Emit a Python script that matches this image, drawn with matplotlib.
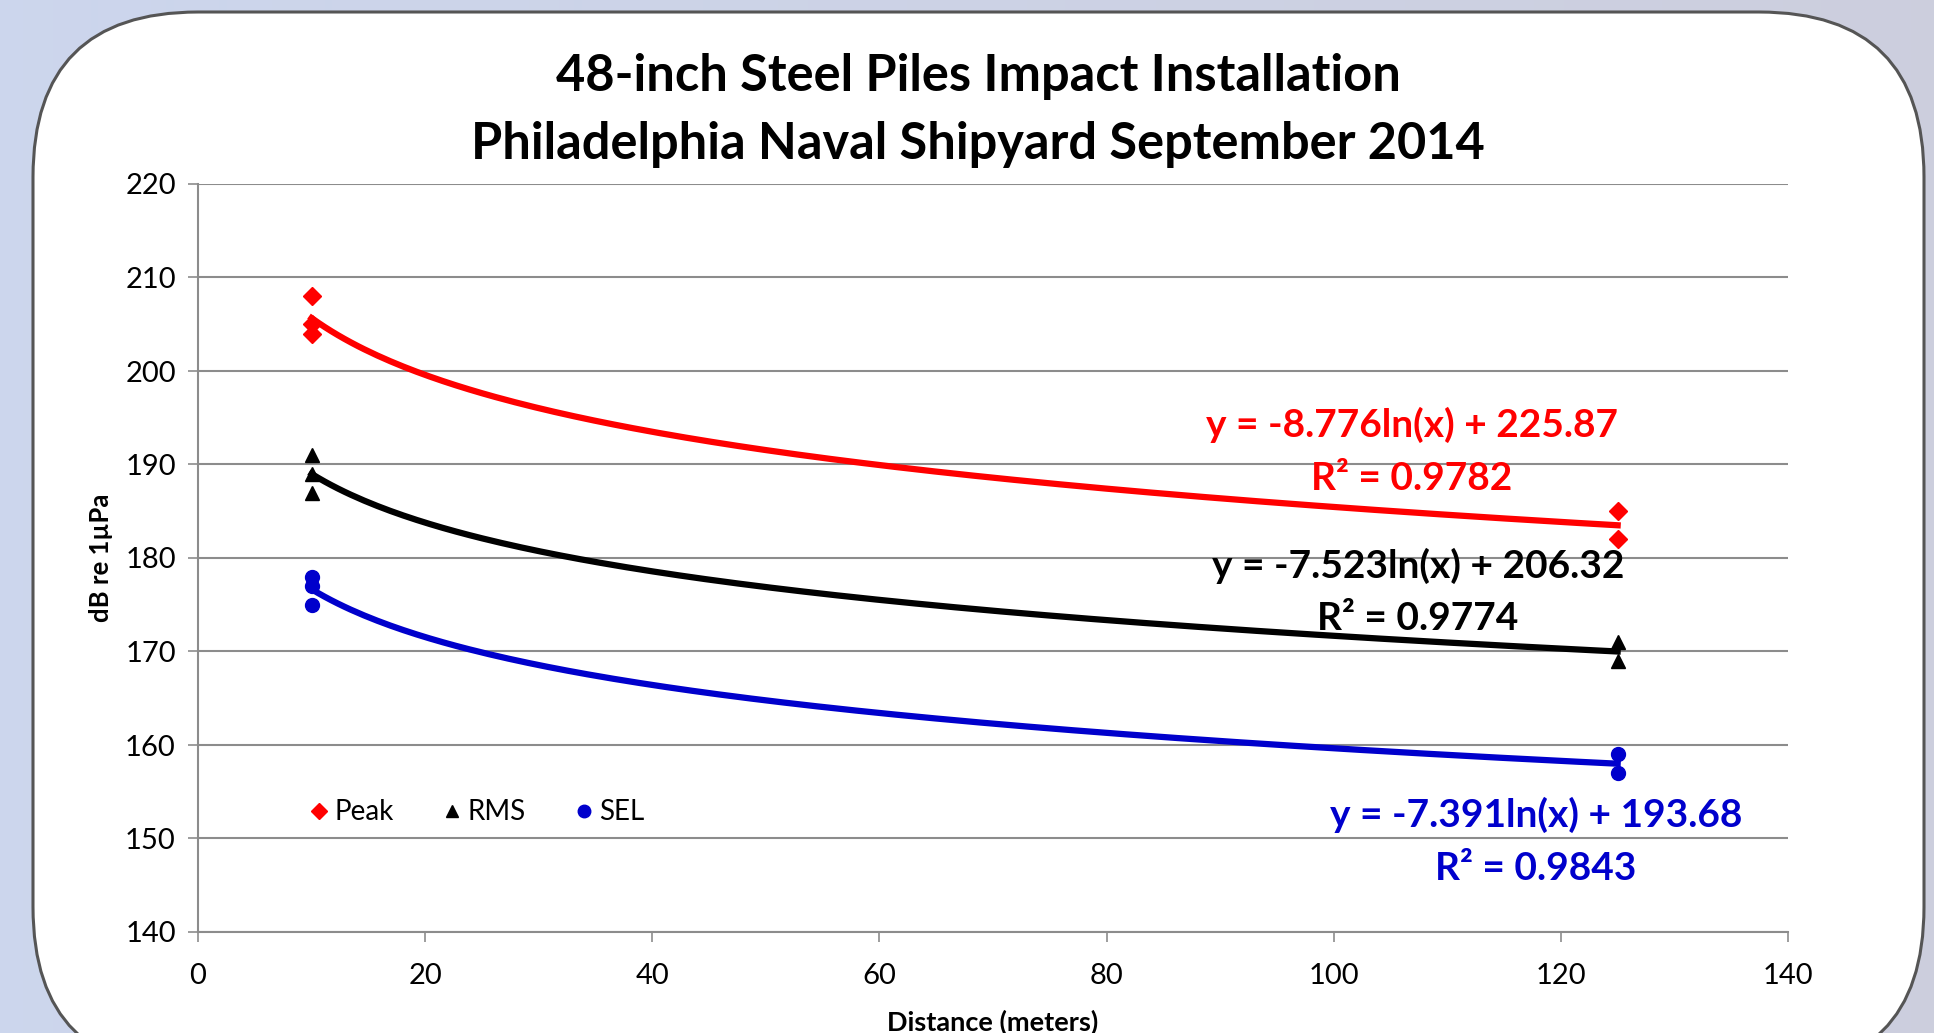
import numpy as np
import matplotlib
matplotlib.use("Agg")
import matplotlib.pyplot as plt
from matplotlib.patches import FancyBboxPatch
from matplotlib.lines import Line2D

plt.rcParams['font.family'] = ['Lato', 'DejaVu Sans']

# measured levels (dB re 1uPa) at two distances
peak_x = [10, 10, 10, 125, 125]
peak_y = [208, 205, 204, 185, 182]
rms_x = [10, 10, 10, 125, 125]
rms_y = [191, 189, 187, 171, 169]
sel_x = [10, 10, 10, 125, 125]
sel_y = [178, 177, 175, 159, 157]

series_names = ["Peak", "RMS", "SEL"]
x_ticks = [0, 20, 40, 60, 80, 100, 120, 140]
y_ticks = [140, 150, 160, 170, 180, 190, 200, 210, 220]

W, H = 1934, 1033
fig = plt.figure(figsize=(W / 100, H / 100), dpi=100)

# background gradient + rounded white panel
bg = fig.add_axes([0, 0, 1, 1])
bg.set_xlim(0, W)
bg.set_ylim(H, 0)
bg.axis("off")
grad = np.linspace(0, 1, 256)[None, :]
c1 = np.array([0.80, 0.84, 0.93])
c2 = np.array([0.80, 0.81, 0.87])
img = c1[None, None, :] * (1 - grad[..., None]) + c2[None, None, :] * grad[..., None]
bg.imshow(img, extent=[0, W, H, 0], aspect="auto")
panel = FancyBboxPatch((33 + 165, 12 + 165), 1891 - 330, 1060 - 330,
                       boxstyle="round,pad=165", fc="white", ec="#555555", lw=2.2)
bg.add_patch(panel)

ax = fig.add_axes([198 / W, 1 - 932 / H, (1788 - 198) / W, (932 - 184) / H])
ax.set_facecolor("none")

styles = [("D", "#FF0000", 9), ("^", "#000000", 10), ("o", "#0000CC", 10)]
data = [(peak_x, peak_y), (rms_x, rms_y), (sel_x, sel_y)]
text_pos = [(106.9, 191.4), (107.4, 176.4), (117.8, 149.7)]

xf = np.linspace(10, 125, 200)
for (xs, ys), (m, c, ms), (tx, ty) in zip(data, styles, text_pos):
    xs = np.array(xs, float)
    ys = np.array(ys, float)
    a, b = np.polyfit(np.log(xs), ys, 1)
    pred = a * np.log(xs) + b
    r2 = 1 - np.sum((ys - pred) ** 2) / np.sum((ys - ys.mean()) ** 2)
    ax.plot(xs, ys, linestyle="none", marker=m, color=c, ms=ms, zorder=3)
    ax.plot(xf, a * np.log(xf) + b, color=c, lw=4.5, zorder=2)
    ax.text(tx, ty, "y = %.3fln(x) + %.2f\nR² = %.4f" % (a, b, r2),
            color=c, fontsize=28, fontweight="bold", ha="center", va="center",
            linespacing=1.6)

ax.set_xlim(0, 140)
ax.set_ylim(140, 220)
ax.set_xticks(x_ticks)
ax.set_yticks(y_ticks)
ax.grid(axis="y", color="#8c8c8c", lw=1.5)
ax.set_axisbelow(True)
for s in ["top", "right"]:
    ax.spines[s].set_visible(False)
for s in ["left", "bottom"]:
    ax.spines[s].set_color("#8c8c8c")
    ax.spines[s].set_linewidth(1.5)
ax.tick_params(axis="both", length=7, width=1.2, color="#8c8c8c", labelsize=21)
ax.tick_params(axis="y", pad=9)
ax.tick_params(axis="x", pad=15)

ax.set_xlabel("Distance (meters)", fontsize=19.5, fontweight="bold", labelpad=15)
ax.set_ylabel("dB re 1µPa", fontsize=18.5, fontweight="bold", labelpad=9)

handles = [Line2D([], [], linestyle="none", marker=m, color=c, ms=ms * 0.9)
           for m, c, ms in styles]
ax.legend(handles, series_names, loc="center", bbox_to_anchor=(0.174, 0.16),
          ncol=3, frameon=False, fontsize=20, handletextpad=0.05,
          columnspacing=1.6, handlelength=1.0)

fig.text(978 / W, 1 - 76 / H, "48-inch Steel Piles Impact Installation",
         fontsize=36.4, fontweight="bold", ha="center", va="center")
fig.text(978 / W, 1 - 144 / H, "Philadelphia Naval Shipyard September 2014",
         fontsize=36.4, fontweight="bold", ha="center", va="center")

fig.savefig("out.png", dpi=100)
